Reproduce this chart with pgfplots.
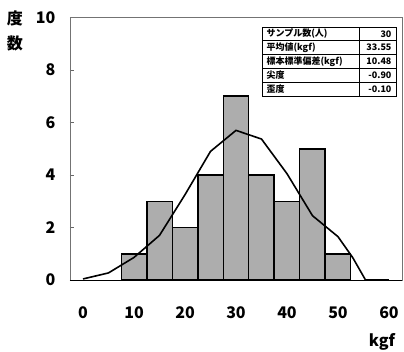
\documentclass[border=0pt]{standalone}
\usepackage{pgfplots}
\pgfplotsset{compat=1.18}
\usepackage{fontspec}
\setmainfont{Noto Sans CJK JP}
\begin{document}
\begin{tikzpicture}[x=1pt,y=1pt]
\useasboundingbox (-70,-71) rectangle (334,280);
\begin{axis}[
  at={(0,0)}, anchor=south west,
  scale only axis, width=332pt, height=262.5pt,
  xmin=-2.55, xmax=62.55, ymin=0, ymax=10,
  axis line style={black!55, line width=0.6pt},
  xtick={0,10,...,60}, ytick={0,2,...,10},
  xtick style={draw=none},
  ytick pos=left, tick align=inside, major tick length=4pt,
  y tick style={black!60, line width=0.5pt},
  /pgf/number format/assume math mode=true,
  tick label style={font=\fontsize{16}{18}\selectfont\bfseries},
  yticklabel style={xshift=-11pt},
  xticklabel style={yshift=-23pt},
  clip=false,
]
\addplot[ybar interval, fill=black!32, draw=black, line width=1.5pt]
  coordinates {(7.5,1)(12.5,3)(17.5,2)(22.5,4)(27.5,7)(32.5,4)(37.5,3)(42.5,5)(47.5,1)(52.5,1)};
\addplot[black, line width=1.6pt, sharp plot, mark=none]
  coordinates {(0,0.04)(5,0.27)(10,0.86)(15,1.70)(20,3.25)(25,4.90)(30,5.70)(35,5.37)(40,4.05)(45,2.45)(50,1.65)(52.9,0.85)(55.4,0)(60,0)};
\draw[black, line width=1pt] (axis cs:-2.55,0) -- (axis cs:62.55,0);
\end{axis}
% y label
\node[font=\fontsize{16}{18}\selectfont\bfseries] at (-55,262) {度};
\node[font=\fontsize{16}{18}\selectfont\bfseries] at (-55,237) {数};
% x label
\node[font=\fontsize{16}{18}\selectfont\bfseries] at (312,-62) {kgf};
% statistics table
\begin{scope}[line width=0.8pt]
\draw (192,184) rectangle (326,253);
\foreach \yy in {239.2,225.4,211.6,197.8} \draw (192,\yy) -- (326,\yy);
\draw (289,184) -- (289,253);
\end{scope}
\begin{scope}[font=\fontsize{9}{10}\selectfont\bfseries]
\node[anchor=west] at (193,246.1) {サンプル数(人)};
\node[anchor=west] at (193,232.3) {平均値(kgf)};
\node[anchor=west] at (193,218.5) {標本標準偏差(kgf)};
\node[anchor=west] at (193,204.7) {尖度};
\node[anchor=west] at (193,190.9) {歪度};
\node[anchor=east] at (325,246.1) {30};
\node[anchor=east] at (325,232.3) {33.55};
\node[anchor=east] at (325,218.5) {10.48};
\node[anchor=east] at (325,204.7) {-0.90};
\node[anchor=east] at (325,190.9) {-0.10};
\end{scope}
\end{tikzpicture}
\end{document}
